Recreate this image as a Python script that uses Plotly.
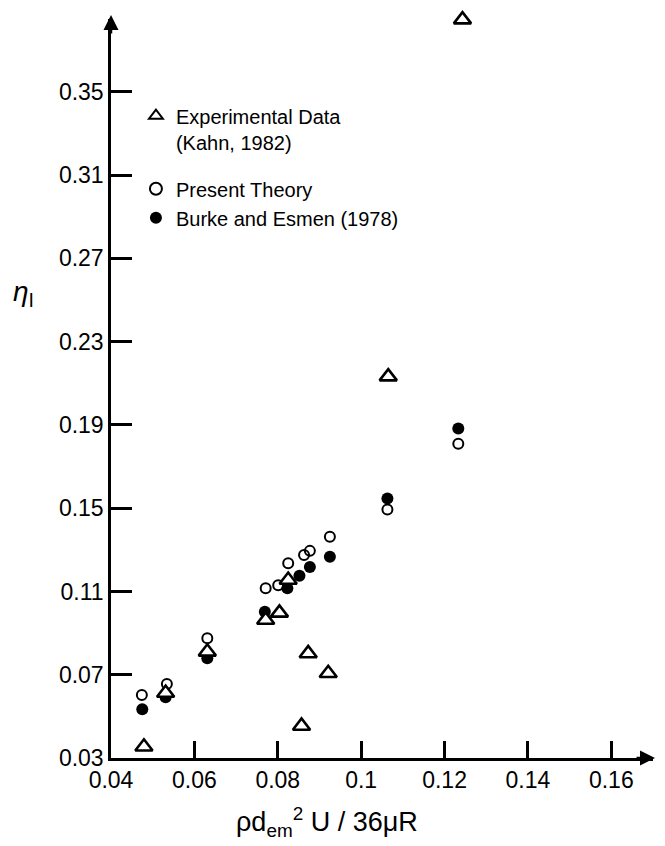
import plotly.graph_objects as go

# Data
exp_x = [0.0479, 0.0531, 0.0631, 0.0771, 0.0804, 0.0825, 0.0857, 0.0873, 0.0921, 0.1065, 0.1243]
exp_y = [0.0354, 0.0612, 0.0810, 0.0963, 0.0997, 0.1155, 0.0454, 0.0802, 0.0707, 0.2132, 0.3847]

theory_x = [0.0474, 0.0534, 0.0631, 0.0771, 0.0801, 0.0825, 0.0863, 0.0877, 0.0925, 0.1063, 0.1233]
theory_y = [0.0603, 0.0655, 0.0875, 0.1115, 0.1130, 0.1235, 0.1275, 0.1295, 0.1363, 0.1494, 0.1810]

burke_x = [0.0475, 0.0531, 0.0631, 0.0769, 0.0823, 0.0852, 0.0877, 0.0925, 0.1063, 0.1233]
burke_y = [0.0534, 0.0592, 0.0779, 0.1003, 0.1115, 0.1175, 0.1218, 0.1267, 0.1547, 0.1883]

x_ticks = [0.04, 0.06, 0.08, 0.10, 0.12, 0.14, 0.16]
x_labels = ["0.04", "0.06", "0.08", "0.1", "0.12", "0.14", "0.16"]
y_ticks = [0.03, 0.07, 0.11, 0.15, 0.19, 0.23, 0.27, 0.31, 0.35]
y_labels = ["0.03", "0.07", "0.11", "0.15", "0.19", "0.23", "0.27", "0.31", "0.35"]

FONT = "Liberation Sans, Arial, sans-serif"

fig = go.Figure()
fig.add_trace(go.Scatter(
    x=burke_x, y=burke_y, mode="markers", name="Burke and Esmen (1978)",
    legendgroup="b", legendrank=3,
    marker=dict(symbol="circle", size=12, color="black"),
    cliponaxis=False,
))
fig.add_trace(go.Scatter(
    x=theory_x, y=theory_y, mode="markers", name="Present Theory",
    legendgroup="b", legendrank=2,
    marker=dict(symbol="circle-open", size=10, color="black", line=dict(width=2, color="black")),
    cliponaxis=False,
))
fig.add_trace(go.Scatter(
    x=exp_x, y=exp_y, mode="markers", name="Experimental Data<br>(Kahn, 1982)",
    legendgroup="a", legendrank=1,
    marker=dict(symbol="triangle-up", size=15, color="white", line=dict(width=2.6, color="black")),
    cliponaxis=False,
))

axis_common = dict(
    showgrid=False, zeroline=False, showline=True, linecolor="black", linewidth=2.5,
    ticks="inside", tickcolor="black", tickwidth=2.5,
    tickfont=dict(family=FONT, size=23, color="black"),
)

fig.update_layout(
    width=665, height=846,
    margin=dict(l=103, r=20, t=11, b=96),
    paper_bgcolor="white", plot_bgcolor="white",
    xaxis=dict(range=[0.04, 0.17], tickvals=x_ticks, ticktext=x_labels, ticklen=17, **axis_common),
    yaxis=dict(range=[0.03, 0.385], tickvals=y_ticks, ticktext=y_labels, ticklen=21, **axis_common),
    showlegend=True,
    legend=dict(
        x=0.046, y=0.8955, xanchor="left", yanchor="top",
        font=dict(family=FONT, size=20, color="black"),
        bgcolor="rgba(0,0,0,0)", traceorder="grouped", tracegroupgap=18,
        valign="top", itemsizing="constant",
    ),
    annotations=[
        # axis arrows
        dict(xref="paper", yref="paper", x=1.0037, y=0, ax=-20, ay=0,
             showarrow=True, arrowhead=2, arrowsize=1.2, arrowwidth=2.5, arrowcolor="black", text=""),
        dict(xref="paper", yref="paper", x=0, y=1.0054, ax=0, ay=20,
             showarrow=True, arrowhead=2, arrowsize=1.2, arrowwidth=2.5, arrowcolor="black", text=""),
        # axis titles
        dict(xref="paper", yref="paper", x=-0.162, y=0.628, xanchor="center", yanchor="middle",
             showarrow=False, text="<i>η</i><sub>I</sub>",
             font=dict(family=FONT, size=28, color="black")),
        dict(xref="paper", yref="paper", x=0.3985, y=-0.0866, xanchor="center", yanchor="middle",
             showarrow=False, text="ρd<sub>em</sub><sup>2</sup> U / 36μR",
             font=dict(family=FONT, size=27, color="black")),
    ],
)

fig.write_html("out.html")
